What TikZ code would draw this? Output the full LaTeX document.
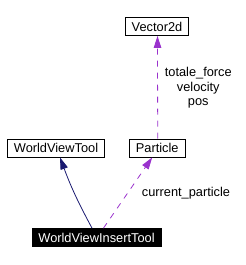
\documentclass[tikz,border=0pt]{standalone}
\usepackage{fontspec}
\setmainfont{Liberation Sans}
\usetikzlibrary{arrows.meta}
\definecolor{inherit}{HTML}{191970}
\definecolor{usage}{HTML}{9A32CD}
\begin{document}
\begin{tikzpicture}[
    x=1pt, y=-1pt,
    classbox/.style={draw=black, fill=white, line width=0.8pt, font=\fontsize{12.8}{14.5}\selectfont,
        inner xsep=6.4pt, inner ysep=0pt, minimum height=18pt},
    current/.style={classbox, fill=black, text=white},
    inheritline/.style={inherit, line width=0.8pt, -{Triangle[length=12pt,width=7.5pt]}},
    usageline/.style={usage, line width=0.8pt, dash pattern=on 6pt off 6pt, -{Triangle[length=12pt,width=7.5pt]}},
    edgelabel/.style={font=\fontsize{12.8}{14.5}\selectfont, align=center},
]
    \useasboundingbox (0,0) rectangle (246,265);
    % classes
    \node[classbox] (vector2d) at (157,26.5) {Vector2d};
    \node[classbox] (worldviewtool) at (56,148) {WorldViewTool};
    \node[classbox] (particle) at (157.2,148) {Particle};
    \node[current] (worldviewinserttool) at (96.5,237.5) {WorldViewInsertTool};

    % relations
    \draw[inheritline] ([xshift=-4.5pt]worldviewinserttool.north) to[bend left=4] ([xshift=4pt]worldviewtool.south);
    \draw[usageline] ([xshift=7pt]worldviewinserttool.north) -- ([xshift=-5pt]particle.south);
    \draw[usageline] ([xshift=0.5pt]particle.north) -- ([xshift=0.5pt]vector2d.south);

    % labels
    \node[edgelabel] (lblparticle) at (186,192.7) {current\_particle};
    \node[edgelabel, anchor=north] (lblvector) at (198.3,64) {totale\_force\\velocity\\pos};
\end{tikzpicture}
\end{document}
